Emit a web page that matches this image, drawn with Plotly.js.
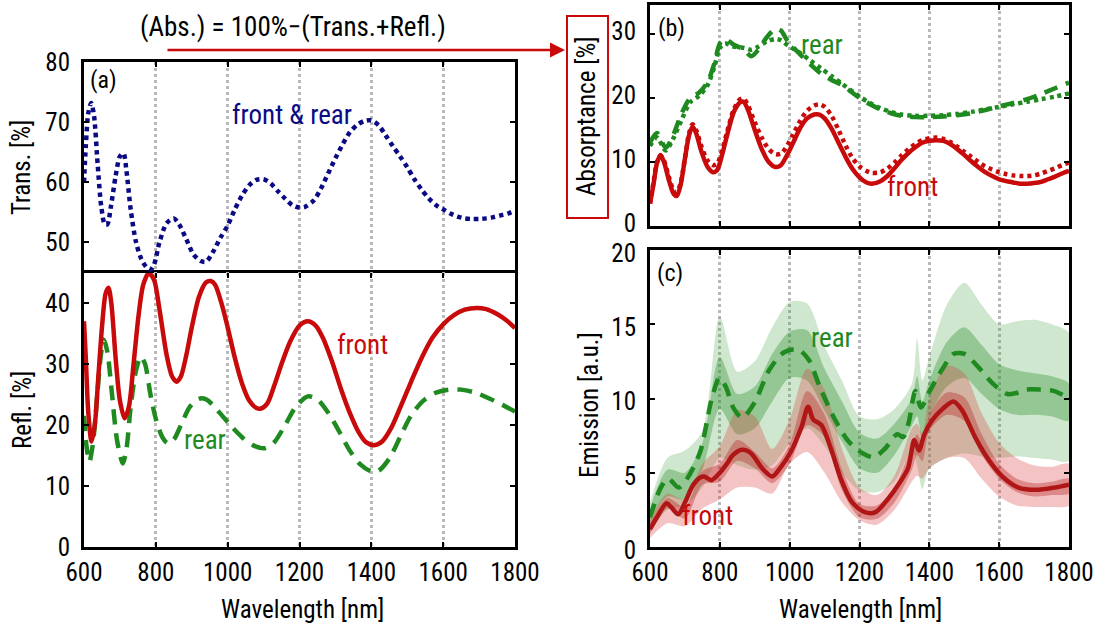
<!DOCTYPE html>
<html>
<head>
<meta charset="utf-8">
<script src="https://cdn.plot.ly/plotly-3.0.1.min.js"></script>
<style>html,body{margin:0;padding:0;background:#fff;}#plot{width:1109px;height:632px;}</style>
</head>
<body>
<div id="plot"></div>
<script>
// ---------- Panel (a): transmission (front & rear) ----------
const transWl = [600,605,612,620,628,638,648,658,665,675,688,700,710,718,730,745,760,775,785,795,810,830,850,865,885,905,925,940,960,980,1000,1020,1040,1060,1080,1100,1120,1140,1160,1180,1200,1215,1240,1260,1280,1300,1320,1340,1360,1380,1400,1420,1440,1460,1480,1500,1520,1540,1560,1580,1600,1620,1640,1660,1680,1700,1720,1740,1760,1780,1800];
const transVal = [60,66,71.5,73.2,71,63,56,53,53,56,61,64.3,64.8,62,55.5,50,47.2,45.8,45.5,46.3,50,53.2,54,53,50.5,48,46.9,46.8,48.5,50.8,52.8,55.5,57.8,59.5,60.4,60.5,59.8,58.5,57.3,56.2,55.8,55.9,57,59,61.5,64,66.3,68.3,69.5,70.2,70.3,69.5,67.8,66,64.3,62.5,60.5,58.8,57.3,56.2,55.5,54.8,54.3,54.0,53.9,53.9,54,54.2,54.5,54.8,55.3];

// ---------- Panel (a): reflection ----------
const reflFrontWl = [600,605,612,621,630,640,650,660,668,676,688,700,713,725,738,752,765,780,795,810,830,845,858,870,885,900,920,940,953,965,985,1000,1020,1040,1060,1080,1093,1110,1130,1150,1175,1200,1223,1245,1265,1290,1315,1340,1365,1385,1408,1430,1455,1480,1510,1540,1570,1600,1630,1660,1693,1720,1750,1775,1800];
const reflFront = [37,31,22,17.3,20,28,36,41.5,42.5,40,31,24,21.1,23,30,38,43,44.9,43.8,39,31.5,28,27.1,28,31.5,36,41,43.4,43.6,43,39.5,36,31,26.8,24,22.8,22.7,23.5,26.5,30,33.8,36.3,37,36.3,34.3,30.5,26,22,18.8,17.2,16.7,17.3,19.5,22.8,27,31,34.3,36.5,38,38.9,39.2,39,38.2,37.2,35.9];
const reflRearWl = [600,607,615,625,637,647,655,665,678,692,708,718,730,745,758,770,785,800,818,833,850,870,895,920,940,960,985,1010,1040,1070,1103,1130,1160,1190,1223,1250,1280,1310,1340,1370,1400,1420,1450,1480,1510,1545,1580,1615,1650,1690,1730,1765,1800];
const reflRear = [21.5,16.5,14.0,17,25,31.5,34.0,32,25,17.5,13.7,16,23,29,31.2,30,25,21,18,17.0,17.6,20,23,24.3,24.2,23.2,21.5,19.8,18.0,16.7,16.2,17.2,20,23,24.7,24.2,22,19,15.8,13.5,12.4,12.5,14.5,18,21.5,24,25.3,25.8,25.8,25.3,24.3,23.3,22.2];

// ---------- Panel (b): absorptance ----------
const absWl = [600,610,620,630,640,655,668,677,688,700,712,722,732,748,765,780,792,805,820,840,858,868,880,900,920,940,960,975,990,1010,1030,1050,1070,1085,1100,1120,1140,1160,1180,1200,1220,1235,1260,1280,1300,1320,1340,1360,1380,1400,1420,1440,1460,1480,1500,1520,1540,1560,1580,1600,1620,1640,1660,1680,1700,1720,1740,1760,1780,1800];
const absFront = [3.5,6.5,9.8,11.1,10.0,7.0,5.0,4.7,6.5,10.5,14.2,15.5,14.5,11.5,9.2,8.4,8.7,10.8,14.0,17.8,19.3,19.4,18.2,15.0,12.0,10.0,9.2,9.5,10.8,13.0,15.3,16.8,17.4,17.4,16.8,15.2,13.0,10.8,8.9,7.6,6.8,6.6,7.0,7.8,9.0,10.3,11.4,12.3,13.0,13.3,13.4,13.3,12.8,12.0,11.1,10.1,9.2,8.4,7.8,7.3,7.0,6.8,6.6,6.6,6.7,6.9,7.3,7.7,8.2,8.6];
const absFrontDot = [3.5,6.8,10,11.0,10.2,7.5,5.5,5.2,6.8,10.5,14.5,15.9,15.0,12.3,10.2,9.5,9.7,11.5,14.5,18.2,19.8,19.9,18.9,16.2,13.8,12.0,11.2,11.3,12.3,14.3,16.4,18.0,18.8,19.0,18.6,17.2,15.0,12.6,10.6,9.3,8.6,8.3,8.4,9.0,9.9,11.0,12.0,12.8,13.4,13.7,13.8,13.6,13.1,12.4,11.6,10.8,10.0,9.3,8.8,8.4,8.1,7.9,7.8,7.8,7.9,8.2,8.6,9.0,9.5,9.9];
const absRearWl = [600,620,645,665,690,715,740,765,785,800,815,840,870,890,910,935,960,975,995,1030,1060,1090,1120,1150,1180,1200,1230,1260,1290,1320,1360,1400,1440,1480,1520,1560,1600,1640,1680,1720,1760,1800];
const absRearDash = [13,14.5,12.2,14,17.5,20,20.8,22.5,25.5,28.5,29.2,28.3,27.5,26.5,27.5,29.5,30.8,30.5,28.8,26.8,25.2,23.8,22.8,22.0,20.8,20.0,19.0,18.2,17.6,17.2,17.0,17.0,17.1,17.3,17.6,18.1,18.7,19.2,19.8,20.6,21.5,22.4];
const absRearDot = [12.5,13.8,11.8,13.5,16.5,19.3,20.3,22.0,25.0,27.8,28.5,28.0,27.8,27.5,28.0,28.8,29.2,29.0,28.2,27.0,25.8,24.6,23.4,22.2,21.0,20.2,19.2,18.4,17.8,17.4,17.2,17.2,17.3,17.5,17.8,18.2,18.6,19.0,19.4,19.8,20.2,20.7];

// ---------- Panel (c): emission ----------
const emFrontWl = [600,620,647,660,681,700,724,745,755,776,800,820,838,864,890,921,950,972,1003,1034,1053,1067,1091,1117,1148,1179,1215,1246,1282,1313,1339,1357,1370,1386,1407,1438,1469,1494,1531,1572,1613,1655,1706,1758,1800];
const emFront = [1.2,2.0,2.95,2.7,2.2,3.0,4.2,4.7,4.75,4.5,5.0,5.6,6.2,6.55,6.3,5.3,4.75,5.3,6.4,8.1,9.45,8.6,8.2,6.7,4.5,3.0,2.35,2.35,3.25,4.26,5.3,7.2,6.5,7.6,8.5,9.3,9.8,9.2,7.4,5.8,4.66,4.0,3.85,4.0,4.2];
const emRearWl = [600,631,652,683,714,745,776,799,817,838,864,900,941,983,1024,1055,1086,1127,1169,1210,1241,1272,1308,1325,1340,1360,1376,1401,1438,1469,1500,1541,1582,1624,1655,1676,1717,1758,1800];
const emRear = [2.0,4.0,4.6,4.0,4.9,6.5,9.9,11.4,10.8,9.4,8.7,9.75,11.9,13.1,13.3,12.6,10.8,8.7,7.1,6.3,6.05,6.6,7.6,7.4,8.3,10.5,9.4,10.5,12.0,13.0,13.0,12.1,11.0,10.3,10.4,10.6,10.6,10.5,10.0];
const bandWl = [600,650,700,750,800,850,900,950,1000,1050,1100,1150,1200,1250,1300,1350,1365,1380,1400,1450,1500,1550,1600,1650,1700,1750,1800];
const rearOuterHi = [3.0,6.0,6.5,7.8,15.5,11.8,12.5,14.8,16.5,16.4,13.5,11.2,8.8,8.6,9.3,11.0,14.0,11.2,12.8,16.3,17.8,16.3,15.0,15.2,15.3,15.0,14.4];
const rearOuterLo = [1.0,2.5,2.8,4.0,6.0,5.5,5.2,5.5,7.0,8.0,6.8,5.0,3.8,3.7,4.4,6.5,5.5,3.9,5.3,6.0,6.3,6.1,6.0,6.1,6.0,5.9,5.8];
const rearInnerHi = [2.6,5.2,5.0,7.0,12.8,10.3,10.8,13.0,14.5,14.6,12.0,9.8,7.7,7.3,8.3,10.0,11.5,9.8,11.2,13.8,14.8,13.6,12.3,11.9,11.7,11.5,11.0];
const rearInnerLo = [1.6,3.4,3.2,5.2,9.3,7.6,8.0,9.8,11.4,11.2,9.2,7.1,5.3,5.0,6.2,8.2,8.8,7.2,8.8,10.8,11.4,10.3,9.3,8.9,8.9,8.8,8.5];
const frontOuterHi = [1.9,3.6,3.2,5.6,6.8,9.2,8.8,6.6,8.6,12.0,10.6,6.6,4.0,3.5,4.8,8.0,8.3,7.6,10.0,12.2,11.7,9.0,7.0,6.0,5.5,5.4,5.6];
const frontOuterLo = [0.6,1.6,1.4,2.6,3.2,4.0,4.0,3.6,5.6,6.4,5.0,3.0,1.8,1.5,2.5,4.4,4.8,4.6,5.3,6.0,6.0,4.6,3.4,2.8,2.7,2.7,2.8];
const frontInnerHi = [1.6,3.3,2.7,5.1,5.6,7.2,6.4,5.3,6.9,10.5,8.9,5.2,2.9,2.8,4.0,6.8,7.6,7.0,8.9,10.4,10.1,7.6,5.6,4.6,4.3,4.4,4.6];
const frontInnerLo = [0.9,2.6,1.9,4.2,4.4,5.8,5.3,4.3,5.6,8.2,7.4,3.8,2.0,1.9,3.0,5.2,6.2,5.8,7.8,8.9,8.5,6.2,4.6,3.7,3.4,3.5,3.6];

// ---------- tick labels ----------
const xTicks = [600,800,1000,1200,1400,1600,1800];
const transTicks = [50,60,70,80];
const reflTicks = [0,10,20,30,40];
const absTicks = [0,10,20,30];
const emTicks = [0,5,10,15,20];

// ---------- styling ----------
const FONT = '"Noto Sans ExtraCondensed", "Noto Sans Condensed", "Roboto Condensed", "Liberation Sans Narrow", "DejaVu Sans Condensed", sans-serif';
const RED = '#c80a0a', GREEN = '#1f8a1f', BLUE = '#0a0a85';
const W = 1109, H = 632;
const px = v => v / W, py = v => 1 - v / H;

function band(xs, hi, lo, color, xa, ya) {
  return {x: xs.concat(xs.slice().reverse()), y: hi.concat(lo.slice().reverse()),
    xaxis: xa, yaxis: ya, mode: 'lines', fill: 'toself', fillcolor: color,
    line: {width: 0, shape: 'spline', smoothing: 0.8}, hoverinfo: 'skip', showlegend: false};
}
function line(xs, ys, color, width, dash, xa, ya) {
  return {x: xs, y: ys, xaxis: xa, yaxis: ya, mode: 'lines',
    line: {color: color, width: width, dash: dash, shape: 'spline', smoothing: 0.8}, showlegend: false};
}

const traces = [
  line(transWl, transVal, BLUE, 4.5, '4.5px,4px', 'x2', 'y2'),
  line(reflRearWl, reflRear, GREEN, 4.5, '15px,9px', 'x', 'y'),
  line(reflFrontWl, reflFront, RED, 4.5, 'solid', 'x', 'y'),
  line(absRearWl, absRearDash, GREEN, 4.5, '14px,9px', 'x3', 'y3'),
  line(absRearWl, absRearDot, GREEN, 4.5, '4px,4px', 'x3', 'y3'),
  line(absWl, absFrontDot, RED, 4.5, '4px,4px', 'x3', 'y3'),
  line(absWl, absFront, RED, 4.5, 'solid', 'x3', 'y3'),
  band(bandWl, rearOuterHi, rearOuterLo, 'rgba(60,160,60,0.25)', 'x4', 'y4'),
  band(bandWl, rearInnerHi, rearInnerLo, 'rgba(40,140,40,0.35)', 'x4', 'y4'),
  band(bandWl, frontOuterHi, frontOuterLo, 'rgba(220,60,60,0.30)', 'x4', 'y4'),
  band(bandWl, frontInnerHi, frontInnerLo, 'rgba(180,30,30,0.35)', 'x4', 'y4'),
  line(emRearWl, emRear, GREEN, 4.5, '14px,9px', 'x4', 'y4'),
  line(emFrontWl, emFront, '#b01616', 4.5, 'solid', 'x4', 'y4')
];

const tickFont = {family: FONT, size: 25, color: '#000'};
function xax(domain, anchor, labels, extra) {
  return Object.assign({domain: domain, anchor: anchor, range: [600, 1800], tickvals: xTicks,
    showticklabels: labels, tickfont: tickFont, ticks: 'inside', ticklen: 5, tickwidth: 2,
    tickcolor: '#000', showline: true, linewidth: 3, linecolor: '#000', mirror: 'allticks',
    showgrid: true, gridcolor: '#b9b9b9', gridwidth: 3, griddash: 'dot', zeroline: false,
    ticklabelstandoff: 1, fixedrange: true}, extra || {});
}
function yax(domain, anchor, range, ticks, extra) {
  return Object.assign({domain: domain, anchor: anchor, range: range, tickvals: ticks,
    tickfont: tickFont, ticks: 'inside', ticklen: 5, tickwidth: 2, tickcolor: '#000',
    showline: true, linewidth: 3, linecolor: '#000', mirror: 'allticks', showgrid: false,
    zeroline: false, ticklabelstandoff: 6, fixedrange: true}, extra || {});
}

const xA = [px(84), px(515)], xB = [px(650), px(1069)];
const ann = (x, y, text, opts) => Object.assign({xref: 'paper', yref: 'paper', x: px(x), y: py(y),
  text: text, showarrow: false, xanchor: 'center', yanchor: 'middle',
  font: {family: FONT, size: 25, color: '#000'}}, opts || {});
const lab = (size, color) => ({font: {family: FONT, size: size, color: color}});

const annotations = [
  ann(293, 27, '(Abs.) = 100%\u2212(Trans.+Refl.)', lab(27, '#000')),
  {xref: 'paper', yref: 'paper', x: px(565), y: py(50), ax: -399, ay: 0, text: '',
   showarrow: true, arrowhead: 2, arrowsize: 1.2, arrowwidth: 2.5, arrowcolor: RED},
  ann(22, 168, 'Trans. [%]', {textangle: -90}),
  ann(22, 410, 'Refl. [%]', {textangle: -90}),
  ann(302, 609, 'Wavelength [nm]'),
  ann(860, 609, 'Wavelength [nm]'),
  ann(587, 117, 'Absorptance [%]', {textangle: -90}),
  ann(589, 405, 'Emission [a.u.]', {textangle: -90}),
  Object.assign(ann(103, 80, '(a)'), lab(24, '#000')),
  Object.assign(ann(671, 28, '(b)'), lab(24, '#000')),
  Object.assign(ann(670, 273, '(c)'), lab(24, '#000')),
  Object.assign(ann(292, 115, 'front &amp; rear'), lab(27, BLUE)),
  Object.assign(ann(362, 345, 'front'), lab(27, RED)),
  Object.assign(ann(205, 440, 'rear'), lab(27, GREEN)),
  Object.assign(ann(822, 45, 'rear'), lab(27, GREEN)),
  Object.assign(ann(912, 187, 'front'), lab(27, RED)),
  Object.assign(ann(832, 338, 'rear'), lab(27, GREEN)),
  Object.assign(ann(707, 516, 'front'), lab(27, RED))
];

const layout = {
  width: W, height: H, margin: {l: 0, r: 0, t: 0, b: 0, pad: 0},
  paper_bgcolor: '#fff', plot_bgcolor: 'rgba(0,0,0,0)', showlegend: false,
  font: {family: FONT, color: '#000'},
  xaxis: xax(xA, 'y', true),
  yaxis: yax([py(547), py(272.5)], 'x', [0, 45], reflTicks),
  xaxis2: xax(xA, 'y2', false, {side: 'top', mirror: false}),
  yaxis2: yax([py(272.5), py(62)], 'x2', [45, 80], transTicks),
  xaxis3: xax(xB, 'y3', false),
  yaxis3: yax([py(226), py(5)], 'x3', [0, 34.5], absTicks, {ticklabelshift: -3}),
  xaxis4: xax(xB, 'y4', true),
  yaxis4: yax([py(547), py(250)], 'x4', [0, 20], emTicks, {ticklabelshift: 3}),
  annotations: annotations,
  shapes: [{type: 'rect', xref: 'paper', yref: 'paper', x0: px(567), x1: px(608), y0: py(218), y1: py(16),
    line: {color: RED, width: 2}, fillcolor: 'rgba(0,0,0,0)'}]
};

Plotly.newPlot('plot', traces, layout, {staticPlot: true, displayModeBar: false});
</script>
</body>
</html>
